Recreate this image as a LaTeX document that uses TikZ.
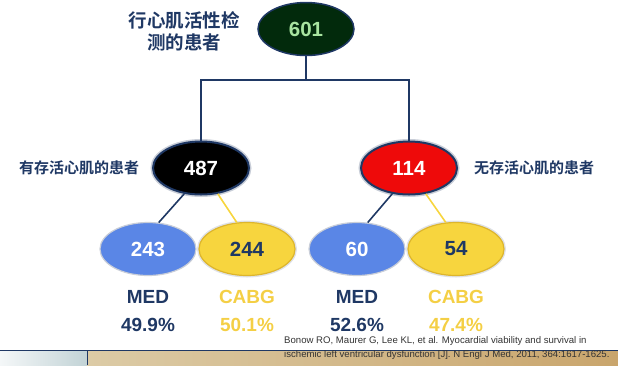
\documentclass[tikz,border=0pt]{standalone}
\usepackage{fontspec}
\setmainfont{Liberation Sans}
\newfontfamily\cjk{Noto Sans CJK SC}[BoldFont={Noto Sans CJK SC Bold}]
\usetikzlibrary{shapes.geometric}
\definecolor{navy}{HTML}{1F3864}
\definecolor{dgreen}{HTML}{022A0C}
\definecolor{lgreen}{HTML}{A8E4A0}
\definecolor{redf}{HTML}{EE0A0A}
\definecolor{bluef}{HTML}{5A86E6}
\definecolor{goldf}{HTML}{F7D53E}
\definecolor{goldb}{HTML}{DDB52C}
\definecolor{goldt}{HTML}{F4CF45}
\definecolor{halo}{HTML}{C9CED8}
\definecolor{tanL}{HTML}{DCCBA6}
\definecolor{tanR}{HTML}{C9A56C}
\definecolor{bandL}{HTML}{F4F7F8}
\definecolor{bandR}{HTML}{C2D3D6}
\begin{document}
\begin{tikzpicture}[x=1pt,y=-1pt,
  ell/.style={ellipse, inner sep=0pt, minimum width=96pt, minimum height=53pt,
    font=\fontsize{20.5}{20.5}\selectfont\bfseries},
  topell/.style={ell, fill=dgreen, draw=navy, line width=1.5pt, text=lgreen},
  midell/.style={ell, draw=navy, line width=2pt, preaction={draw=halo, line width=5pt}},
  blueell/.style={ell, fill=bluef, draw=halo, line width=1.2pt, preaction={draw=white, line width=3pt}, text=white},
  goldell/.style={ell, fill=goldf, draw=goldb, line width=1.2pt, preaction={draw=halo!60, line width=4pt}, text=navy},
  navyline/.style={draw=navy, line width=1.6pt},
  goldline/.style={draw=goldf, line width=1.6pt},
  cnlabel/.style={text=navy, font=\cjk\bfseries\fontsize{15}{15}\selectfont, inner sep=0pt},
  grplabel/.style={font=\fontsize{19}{19}\selectfont\bfseries, inner sep=0pt},
  cite/.style={text=black!80, font=\fontsize{9.6}{14.5}\selectfont, align=left, anchor=west, inner sep=0pt}
]
\useasboundingbox (0,0) rectangle (618,365);
% bottom band
\fill[left color=bandL, right color=bandR] (0,350) rectangle (87,365);
\fill[left color=tanL, right color=tanR] (87,350) rectangle (618,365);
\draw[navy, line width=1pt] (0,350) -- (618,350);
\draw[navy, line width=1pt] (87,350) -- (87,365);

% nodes
\node[topell] (n601) at (306,29) {601};
\node[cnlabel, align=center, font=\cjk\bfseries\fontsize{18.5}{22}\selectfont] (ltop) at (184,31) {行心肌活性检\\测的患者};
\node[midell, fill=black, text=white] (n487) at (201,168) {487};
\node[midell, fill=redf, text=white] (n114) at (409,168) {114};
\node[cnlabel] (lyes) at (79,168) {有存活心肌的患者};
\node[cnlabel] (lno) at (534,168) {无存活心肌的患者};
\node[blueell] (n243) at (148,249) {243};
\node[goldell] (n244) at (247,249) {244};
\node[blueell] (n60) at (357,249) {60};
\node[goldell] (n54) at (456,249) {54};

\node[grplabel, text=navy] (m1) at (148,297) {MED};
\node[grplabel, text=goldt] (c1) at (247,297) {CABG};
\node[grplabel, text=navy] (m2) at (357,297) {MED};
\node[grplabel, text=goldt] (c2) at (456,297) {CABG};
\node[grplabel, text=navy] (p1) at (148,325) {49.9\%};
\node[grplabel, text=goldt] (p2) at (247,325) {50.1\%};
\node[grplabel, text=navy] (p3) at (357,325) {52.6\%};
\node[grplabel, text=goldt] (p4) at (456,325) {47.4\%};

\node[cite] (cit) at (284,348) {Bonow RO, Maurer G, Lee KL, et al. Myocardial viability and survival in\\ischemic left ventricular dysfunction [J]. N Engl J Med, 2011, 364:1617-1625.};

% connectors
\coordinate (j) at (306,80);
\draw[navyline] (n601.south) -- (j);
\draw[navyline] (j) -| (n487.north);
\draw[navyline] (j) -| (n114.north);
\draw[navyline] (n487.237) -- (n243.68);
\draw[goldline] (n487.303) -- (n244.111);
\draw[navyline] (n114.237) -- (n60.68);
\draw[goldline] (n114.303) -- (n54.111);
\end{tikzpicture}
\end{document}
